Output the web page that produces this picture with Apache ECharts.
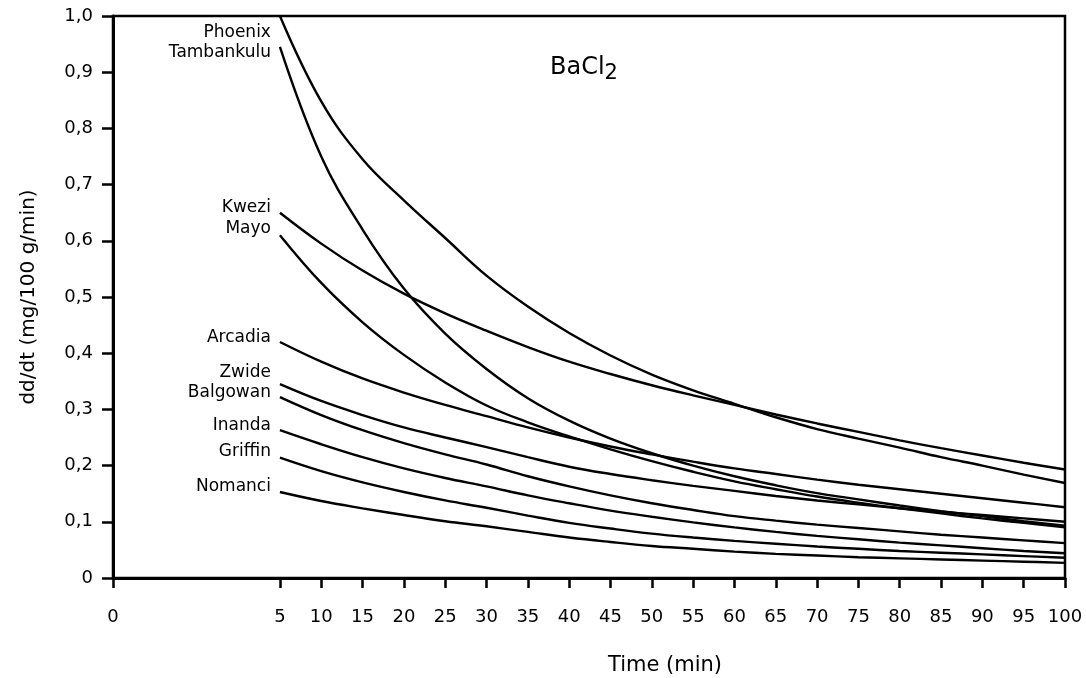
<!DOCTYPE html>
<html>
<head>
<meta charset="utf-8">
<script src="https://cdn.jsdelivr.net/npm/echarts@6/dist/echarts.min.js"></script>
<style>
  html, body { margin: 0; padding: 0; background: #fff; }
  #chart { width: 1086px; height: 678px; }
</style>
</head>
<body>
<div id="chart"></div>
<script>
// time axis (min) and the read-off dissolution rates
const times  = [5, 10, 15, 20, 25, 30, 35, 40, 45, 50, 55, 60, 65, 70, 75, 80, 85, 90, 95, 100];
const xTicks = [5, 10, 15, 20, 25, 30, 35, 40, 45, 50, 55, 60, 65, 70, 75, 80, 85, 90, 95, 100];

const phoenix    = [1.0, 0.848, 0.745, 0.672, 0.605, 0.538, 0.483, 0.436, 0.396, 0.362, 0.334, 0.31, 0.286, 0.265, 0.248, 0.232, 0.215, 0.2, 0.184, 0.169];
const tambankulu = [0.945, 0.75, 0.62, 0.515, 0.435, 0.372, 0.32, 0.28, 0.248, 0.222, 0.2, 0.181, 0.165, 0.151, 0.14, 0.129, 0.119, 0.11, 0.101, 0.093];
const kwezi      = [0.65, 0.595, 0.547, 0.506, 0.471, 0.44, 0.411, 0.385, 0.363, 0.343, 0.325, 0.308, 0.291, 0.275, 0.26, 0.245, 0.231, 0.218, 0.205, 0.193];
const mayo       = [0.61, 0.525, 0.455, 0.397, 0.348, 0.307, 0.277, 0.252, 0.229, 0.208, 0.189, 0.172, 0.158, 0.145, 0.134, 0.124, 0.115, 0.106, 0.098, 0.09];
const arcadia    = [0.42, 0.385, 0.355, 0.33, 0.308, 0.288, 0.268, 0.25, 0.234, 0.22, 0.207, 0.195, 0.185, 0.175, 0.166, 0.158, 0.15, 0.142, 0.134, 0.126];
const zwide      = [0.345, 0.315, 0.29, 0.268, 0.25, 0.233, 0.215, 0.198, 0.185, 0.174, 0.164, 0.155, 0.146, 0.138, 0.131, 0.124, 0.118, 0.112, 0.106, 0.1];
const balgowan   = [0.322, 0.29, 0.263, 0.24, 0.22, 0.202, 0.181, 0.163, 0.147, 0.133, 0.121, 0.11, 0.102, 0.095, 0.089, 0.083, 0.077, 0.072, 0.067, 0.062];
const inanda     = [0.263, 0.238, 0.215, 0.195, 0.178, 0.163, 0.147, 0.133, 0.12, 0.109, 0.099, 0.09, 0.082, 0.075, 0.069, 0.063, 0.058, 0.053, 0.048, 0.044];
const griffin    = [0.214, 0.19, 0.17, 0.153, 0.138, 0.125, 0.111, 0.098, 0.088, 0.079, 0.072, 0.066, 0.061, 0.056, 0.052, 0.048, 0.045, 0.042, 0.039, 0.036];
const nomanci    = [0.153, 0.137, 0.124, 0.112, 0.101, 0.092, 0.082, 0.072, 0.064, 0.057, 0.052, 0.047, 0.043, 0.04, 0.037, 0.035, 0.033, 0.031, 0.029, 0.027];

const curves = [
  ['Phoenix', phoenix],
  ['Tambankulu', tambankulu],
  ['Kwezi', kwezi],
  ['Mayo', mayo],
  ['Arcadia', arcadia],
  ['Zwide', zwide],
  ['Balgowan', balgowan],
  ['Inanda', inanda],
  ['Griffin', griffin],
  ['Nomanci', nomanci]
];
// vertical nudge of each name label against the start of its curve
const labelShift = [17, 6, -5, -7, -4, -12, -4, -5, -6, -5];

// the axis is broken between 0 and 5: the "0" sits at this value
const xZero = -15.2;

const font = 'DejaVu Sans';

let chart = echarts.init(document.getElementById('chart'), null, { renderer: 'canvas' });

let series = curves.map(([name, vals], i) => {
  let data = times.map((t, j) => [t, vals[j]]);
  data[0] = {
    value: data[0],
    label: {
      show: true,
      position: 'left',
      distance: 9,
      offset: [0, labelShift[i]],
      formatter: name,
      color: '#000',
      fontFamily: font,
      fontSize: 17
    }
  };
  return {
    name: name,
    type: 'line',
    data: data,
    smooth: 0.4,
    symbol: 'circle',
    symbolSize: 0,
    showSymbol: true,
    lineStyle: { color: '#000', width: 2.4 },
    itemStyle: { color: '#000' },
    emphasis: { disabled: true },
    z: 3
  };
});

let option = {
  animation: false,
  backgroundColor: '#fff',
  grid: {
    left: 113, right: 21, top: 16, bottom: 100,
    show: true, borderColor: '#000', borderWidth: 2.5
  },
  title: [
    {
      text: 'BaCl{sub|2}',
      left: 545, top: 46,
      textStyle: {
        fontFamily: font, fontSize: 24, fontWeight: 'normal', color: '#000',
        rich: { sub: { fontFamily: font, fontSize: 21, color: '#000', verticalAlign: 'bottom', padding: [12, 0, 0, 0] } }
      }
    },
    {
      text: 'Time (min)',
      left: 660, top: 650, textAlign: 'center',
      textStyle: { fontFamily: font, fontSize: 21, fontWeight: 'normal', color: '#000' }
    }
  ],
  xAxis: {
    type: 'value',
    min: xZero,
    max: 100,
    axisLine: { show: true, onZero: false, lineStyle: { color: '#000', width: 3 } },
    axisTick: {
      show: true, length: 10, inside: false,
      lineStyle: { color: '#000', width: 2.5 },
      customValues: [xZero].concat(xTicks)
    },
    axisLabel: {
      margin: 30,
      color: '#000', fontFamily: font, fontSize: 18,
      customValues: [xZero].concat(xTicks),
      formatter: v => (v < 1 ? '0' : String(v))
    },
    splitLine: { show: false }
  },
  yAxis: {
    type: 'value',
    min: 0, max: 1, interval: 0.1,
    name: 'dd/dt (mg/100 g/min)',
    nameLocation: 'middle',
    nameGap: 74,
    nameTextStyle: { fontFamily: font, fontSize: 20, color: '#000' },
    axisLine: { show: true, onZero: false, lineStyle: { color: '#000', width: 3 } },
    axisTick: { show: true, length: 11, lineStyle: { color: '#000', width: 2.5 } },
    axisLabel: {
      margin: 20,
      color: '#000', fontFamily: font, fontSize: 18,
      formatter: v => (v === 0 ? '0' : v.toFixed(1).replace('.', ','))
    },
    splitLine: { show: false }
  },
  series: series
};

chart.setOption(option);
</script>
</body>
</html>
